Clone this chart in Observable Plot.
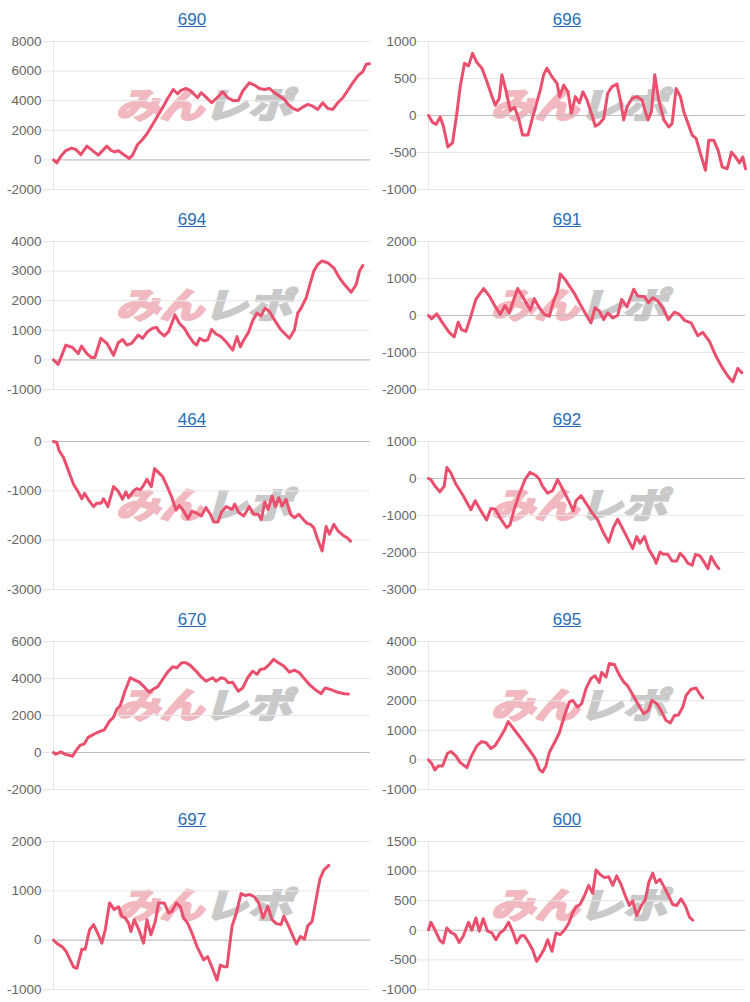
<!DOCTYPE html>
<html>
<head>
<meta charset="utf-8">
<script src="https://cdn.jsdelivr.net/npm/d3@7"></script>
<script src="https://cdn.jsdelivr.net/npm/@observablehq/plot@0.6"></script>
<style>
  body { margin: 0; background: #fff; font-family: "Liberation Sans", Arial, sans-serif; }
  #grid { display: grid; grid-template-columns: 375px 375px; grid-auto-rows: 200px; width: 750px; }
  .cell { position: relative; width: 375px; height: 200px; overflow: hidden; }
  .title { position: absolute; top: 10px; left: 0; width: 384px; text-align: center;
           font-size: 17px; line-height: 20px; color: #2a6db5; text-decoration: underline; }
  .wm { position: absolute; left: 120px; top: 81px; font-family: "Noto Sans CJK JP", sans-serif;
        font-weight: 700; font-size: 44px; line-height: 44px; letter-spacing: 0px;
        transform: skewX(-16deg) scaleY(0.8); transform-origin: left center; white-space: nowrap; }
  .wm .p { color: #f1b9bf; -webkit-text-stroke: 3px #f1b9bf; }
  .wm .g { color: #c9c9c9; -webkit-text-stroke: 3px #c9c9c9; }
  .cell svg { position: absolute; left: 0; top: 0; }
</style>
</head>
<body>
<div id="grid"></div>
<script>
const titles = ["690", "696", "694", "691", "464", "692", "670", "695", "697", "600"];

const s690 = [[0,0],[1,-200],[2.2,250],[3.7,630],[5.4,800],[6.7,700],[8.2,360],[10,930],[11.7,630],[13.4,320],[16,930],[17.2,650],[18.4,540],[19.4,630],[21,360],[22.7,100],[23.7,320],[25.2,1040],[26.7,1380],[28.2,1830],[29.7,2390],[31.2,2960],[32.7,3520],[34.2,4150],[35.9,4760],[37.2,4470],[38.2,4700],[39.7,4830],[40.9,4700],[42.2,4420],[43.2,4200],[44.2,4540],[45.7,4240],[47.4,3860],[49,4200],[50.7,4600],[52.2,4200],[53.7,4020],[55.4,4020],[56.7,4650],[58.7,5210],[60.2,5060],[61.7,4830],[63.2,4760],[64.7,4830],[66.2,4540],[67.7,4310],[69.2,4090],[70.2,3790],[71.7,3480],[73.2,3340],[74.7,3570],[76.2,3750],[77.7,3630],[79.2,3410],[80.7,3860],[82.2,3480],[83.7,3410],[85.2,3860],[86.7,4200],[88.2,4700],[89.7,5210],[91.2,5670],[92.7,5960],[93.7,6460],[94.7,6500]];

const s696 = [[0,0],[1.2,-90],[2.3,-120],[3.5,-20],[4.5,-150],[5.8,-425],[7.2,-370],[8.5,30],[9.5,390],[10.8,705],[12,670],[13.2,840],[14.5,715],[16,640],[17.5,460],[19,260],[20,140],[21.2,230],[22,550],[23.2,340],[24.5,70],[25.8,110],[27,-40],[28.2,-265],[29.8,-265],[31,-60],[32.5,185],[33.5,345],[34.5,550],[35.5,640],[37,525],[38.5,435],[39.3,255],[40.5,410],[41.8,320],[42.8,30],[44,255],[45.2,170],[46.3,320],[47.5,210],[48.8,30],[50,-145],[51.2,-110],[52.5,-40],[53.7,300],[55,390],[56.5,425],[57.5,210],[58.5,-60],[59.5,120],[61,230],[62.5,255],[64,210],[65,50],[65.8,-60],[66.8,50],[67.8,550],[69,210],[70.5,-55],[72,-155],[73,-110],[74.2,365],[75.5,255],[76.5,50],[77.8,-110],[79,-265],[80.2,-310],[81.5,-515],[83,-740],[84,-335],[85.5,-335],[86.8,-470],[88,-695],[89.5,-720],[90.8,-495],[92,-560],[93.2,-640],[94.2,-560],[95,-720]];

const s694 = [[0,0],[1.4,-150],[3.7,500],[5.7,420],[7.4,215],[8.4,465],[10,215],[11.4,80],[12.4,80],[14.2,730],[16,560],[18,160],[19.4,580],[20.7,690],[22,500],[23.4,560],[25.4,840],[26.7,730],[28.2,955],[29.7,1070],[30.9,1100],[31.7,955],[33.2,810],[34.5,955],[36.4,1520],[37.7,1240],[39.2,1070],[40.7,785],[42,580],[42.9,500],[43.8,730],[45,650],[46.2,670],[47.4,1030],[48.7,875],[50.2,785],[51.7,615],[53.7,330],[55,785],[56,445],[57,670],[58.4,920],[59.7,1330],[61,1580],[62.2,1490],[63.4,1750],[64.7,1640],[66.2,1350],[68.2,1010],[70.7,730],[72.2,1010],[73.2,1580],[74.2,1750],[75.7,2090],[76.7,2490],[78,3000],[79.2,3225],[80.4,3340],[82.2,3280],[84,3110],[85.7,2770],[87.2,2545],[89.2,2285],[90.7,2545],[91.7,3000],[92.7,3190]];

const s691 = [[0,0],[0.9,-90],[2.5,45],[4.2,-200],[6.2,-455],[7.7,-580],[8.9,-180],[9.9,-380],[11.2,-430],[12.7,-20],[14.2,435],[16.5,730],[18.2,530],[19.9,255],[21.5,30],[22.9,270],[24.2,70],[26.7,730],[28.7,435],[30.5,145],[31.7,455],[33.2,210],[34.7,30],[36.2,-20],[37.5,390],[38.7,665],[39.5,1120],[40.9,980],[42.2,800],[43.7,600],[45.2,345],[47.2,30],[48.7,-200],[49.9,210],[51.2,120],[52.5,-110],[53.7,70],[55.2,-65],[56.7,0],[57.9,435],[59.5,235],[61.5,710],[62.7,525],[64.7,510],[65.9,345],[67.2,480],[68.7,390],[70.2,210],[71.9,-110],[73.7,90],[75.2,30],[76.7,-130],[78.7,-200],[80.7,-545],[82.2,-455],[84.2,-700],[86.2,-1110],[88.2,-1430],[89.7,-1635],[91.2,-1790],[92.7,-1430],[93.9,-1545]];

const s464 = [[0,0],[1,-20],[1.7,-190],[3,-325],[4.3,-560],[6,-865],[7.5,-1035],[8.5,-1160],[9.3,-1050],[10.7,-1205],[12,-1320],[13,-1250],[14.3,-1250],[15,-1160],[16.3,-1320],[18,-915],[19.3,-1000],[20.7,-1170],[21.7,-1020],[22.5,-1140],[24,-1000],[25,-955],[26,-980],[27,-890],[28,-765],[29.3,-915],[30.3,-550],[31.5,-630],[32.7,-710],[34,-900],[35.5,-1140],[36.7,-1390],[37.7,-1295],[39,-1410],[40.3,-1565],[41.5,-1410],[43,-1455],[44.3,-1510],[45.7,-1340],[47,-1475],[48,-1630],[49.3,-1630],[50.3,-1440],[51.7,-1320],[53.5,-1375],[54.3,-1270],[55.5,-1440],[57,-1510],[58.7,-1320],[60,-1475],[61.3,-1475],[62.3,-1580],[63.3,-1225],[64.3,-1375],[65.5,-1105],[66.5,-1320],[67.5,-1140],[68.5,-1305],[69.7,-1170],[71,-1475],[72.3,-1545],[73.5,-1475],[75,-1590],[76,-1660],[77,-1680],[78,-1745],[79,-1950],[80.5,-2220],[81.7,-1725],[82.7,-1880],[84,-1680],[85.3,-1815],[87,-1915],[88,-1950],[89,-2020]];

const s692 = [[0,0],[0.7,-30],[2,-210],[3.4,-360],[4.7,-210],[5.5,300],[6.7,150],[8.2,-150],[10.4,-465],[12.7,-845],[14,-600],[15.7,-875],[17.4,-1120],[18.7,-810],[20,-830],[21.7,-1100],[23.4,-1325],[24.4,-1260],[25.7,-830],[27.2,-420],[29,-15],[30.4,165],[32,95],[33.2,-15],[34.2,-210],[35.7,-395],[37.2,-330],[38.7,-30],[40.2,-285],[42,-600],[43.4,-875],[44.2,-600],[45.7,-465],[47.2,-665],[49,-920],[50.7,-1120],[52.4,-1460],[54,-1720],[55.4,-1325],[56.7,-1100],[58,-1325],[59.4,-1570],[61.2,-1895],[62.4,-1570],[63.4,-1750],[64.7,-1570],[66,-1910],[67.7,-2165],[68.2,-2290],[69.4,-1985],[70.4,-2050],[71.7,-2050],[73,-2230],[74.4,-2230],[75.4,-2020],[76.7,-2140],[77.7,-2290],[79,-2345],[80,-2050],[81.4,-2095],[82.7,-2275],[83.7,-2435],[84.7,-2110],[86,-2320],[87,-2435]];

const s670 = [[0,0],[0.7,-90],[2.2,35],[3.4,-90],[4.7,-145],[5.7,-200],[6.7,90],[8,400],[9.2,455],[10.4,820],[12.2,1000],[13.7,1130],[15.2,1220],[16.7,1670],[18,1910],[19,2345],[20,2530],[21.4,3310],[23,4040],[24.4,3910],[25.7,3800],[27.2,3545],[28.7,3255],[30,3435],[31.2,3545],[32.7,3945],[34.2,4345],[35.7,4636],[37,4580],[38.4,4855],[39.7,4855],[41,4710],[42.7,4400],[44.2,4090],[45.7,3855],[46.7,3945],[47.7,4040],[48.7,3855],[50.2,4040],[51.4,3980],[52.4,3765],[53.7,3800],[55.4,3310],[56.7,3490],[58.2,4040],[59.7,4400],[61,4220],[62,4490],[63.2,4525],[64.7,4765],[66,5035],[67.4,4855],[69,4675],[70.7,4345],[72.2,4455],[73.7,4310],[75.2,3980],[76.7,3675],[78.2,3435],[80.2,3180],[81.4,3490],[83.2,3400],[85.2,3255],[87.2,3180],[88.4,3165]];

const s695 = [[0,0],[0.9,-110],[1.9,-340],[2.9,-205],[4.2,-205],[5.7,225],[6.7,285],[8.2,135],[9.5,-90],[11.5,-260],[12.9,135],[14.5,475],[15.9,615],[17.2,590],[18.7,385],[19.9,475],[21.2,705],[22.7,990],[23.9,1295],[25.2,1100],[26.7,875],[28.2,650],[29.9,385],[31.5,135],[32.2,0],[33.2,-320],[34.2,-410],[35.2,-205],[36.2,250],[37.7,570],[39.2,910],[40.7,1475],[42.2,1955],[43.2,2010],[44.7,1785],[45.9,1900],[47.2,2410],[48.7,2750],[49.9,2840],[51.2,2615],[51.9,2955],[53.2,2805],[54.2,3260],[55.7,3225],[57.2,2865],[58.5,2635],[59.7,2500],[61.2,2205],[62.7,1900],[64.5,1560],[65.9,1670],[66.9,2010],[68.5,1900],[69.9,1615],[71.2,1330],[72.5,1250],[73.7,1500],[74.9,1520],[76.2,1785],[77.2,2180],[78.7,2385],[80.2,2430],[81.2,2240],[82.2,2090]];

const s697 = [[0,0],[1.2,-75],[2.8,-145],[3.8,-230],[5,-400],[6,-540],[7,-570],[8.5,-185],[9.5,-185],[10.8,210],[12,315],[13.2,145],[14.5,-60],[15.5,210],[16.8,755],[18.2,620],[19.5,675],[20.5,485],[21.5,450],[22.5,345],[23.2,175],[24.2,415],[25.5,225],[27,-60],[28,415],[29.2,110],[30.5,380],[31.5,755],[33.2,755],[34.5,550],[35.5,585],[36.8,755],[38,675],[39,450],[40.2,345],[41.5,145],[43,-130],[45,-400],[46.2,-335],[47.5,-550],[49,-810],[50,-505],[51.2,-540],[52,-540],[53.5,280],[54.8,550],[56.2,945],[57.5,905],[58.8,925],[60.2,880],[61.5,755],[62.8,450],[64.2,685],[65.5,415],[66.8,335],[68.2,315],[69,485],[70.5,280],[71.8,75],[72.8,-75],[74,75],[75.2,20],[76.2,290],[77.5,380],[78.5,755],[79.8,1230],[81,1420],[82.5,1515]];

const s600 = [[0,10],[0.7,135],[2,0],[3.4,-170],[4.4,-215],[5.5,40],[6.7,-35],[8,-75],[9.2,-205],[10.4,-100],[12,135],[13,0],[14.2,210],[15.2,-15],[16.4,195],[17.7,-15],[19,-45],[20.2,-160],[21.4,-45],[22.7,10],[24,135],[25.4,-45],[26.4,-215],[27.7,-90],[28.7,-90],[30,-205],[31.2,-330],[32.4,-525],[33.7,-415],[34.7,-315],[35.7,-160],[37,-355],[38.2,-45],[39.4,-75],[40.7,0],[42,115],[43.2,295],[44.2,395],[45.4,435],[46.7,580],[48,760],[49.2,625],[50.2,1020],[51.4,945],[52.7,890],[54,905],[55.2,760],[56.4,920],[57.7,775],[59,580],[60.2,420],[61.2,495],[62.4,250],[63.7,410],[65,520],[66,805],[67.2,965],[68.2,805],[69.4,860],[70.7,720],[72,580],[73.2,435],[74.4,420],[75.7,530],[77,410],[78.2,225],[79.2,170]];

const series = [s690, s696, s694, s691, s464, s692, s670, s695, s697, s600];

const yTicks = [
  [-2000, 0, 2000, 4000, 6000, 8000],
  [-1000, -500, 0, 500, 1000],
  [-1000, 0, 1000, 2000, 3000, 4000],
  [-2000, -1000, 0, 1000, 2000],
  [-3000, -2000, -1000, 0],
  [-3000, -2000, -1000, 0, 1000],
  [-2000, 0, 2000, 4000, 6000],
  [-1000, 0, 1000, 2000, 3000, 4000],
  [-1000, 0, 1000, 2000],
  [-1000, -500, 0, 500, 1000, 1500]
];

const xDomain = [0, 95];
const lineColor = "#ea4f6e";
const gridColor = "#e6e6e6";
const zeroColor = "#bdbdbd";

const grid = document.getElementById("grid");
titles.forEach((t, i) => {
  const cell = document.createElement("div");
  cell.className = "cell";
  cell.innerHTML = `<div class="wm"><span class="p">みん</span><span class="g">レポ</span></div>`;
  const ticks = yTicks[i];
  const svg = Plot.plot({
    width: 375,
    height: 200,
    marginTop: 41,
    marginBottom: 11,
    marginLeft: 53,
    marginRight: 5,
    style: { background: "transparent", fontFamily: "'Liberation Sans', Arial, sans-serif" },
    x: { domain: xDomain, axis: null },
    y: { domain: [d3.min(ticks), d3.max(ticks)], axis: null },
    marks: [
      Plot.gridY(ticks, { stroke: gridColor, strokeOpacity: 1 }),
      Plot.ruleX([xDomain[0]], { stroke: gridColor }),
      Plot.ruleY([0], { stroke: zeroColor }),
      Plot.axisY(ticks, {
        tickSize: 11, tickPadding: 1, stroke: gridColor, strokeOpacity: 1,
        fill: "#666", fontSize: 13.5, tickFormat: d => String(d), label: null
      }),
      Plot.line(series[i], { x: d => d[0], y: d => d[1], stroke: lineColor, strokeWidth: 3 })
    ]
  });
  cell.appendChild(svg);
  const title = document.createElement("div");
  title.className = "title";
  title.textContent = t;
  cell.appendChild(title);
  grid.appendChild(cell);
});
</script>
</body>
</html>
